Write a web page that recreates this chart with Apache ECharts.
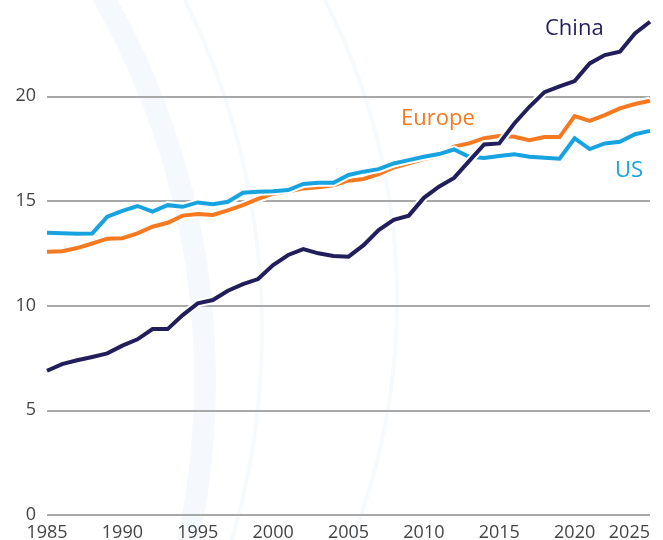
<!DOCTYPE html>
<html>
<head>
<meta charset="utf-8">
<script src="https://cdn.jsdelivr.net/npm/echarts@6/dist/echarts.min.js"></script>
<style>
  html, body { margin: 0; padding: 0; background: #fff; }
  #chart { width: 663px; height: 540px; }
</style>
</head>
<body>
<div id="chart"></div>
<script>
  // 数据 1985-2025
  var years = [];
  for (var y = 1985; y <= 2025; y++) years.push(y);

  var china = [6.89, 7.21, 7.39, 7.55, 7.72, 8.09, 8.39, 8.88, 8.88, 9.55,
    10.11, 10.27, 10.71, 11.03, 11.27, 11.94, 12.42, 12.7, 12.5, 12.37,
    12.34, 12.89, 13.61, 14.1, 14.3, 15.15, 15.68, 16.1, 16.9, 17.7,
    17.75, 18.7, 19.5, 20.2, 20.47, 20.73, 21.57, 21.97, 22.13, 23.0, 23.56];

  var europe = [12.57, 12.6, 12.75, 12.97, 13.2, 13.22, 13.45, 13.77, 13.96, 14.3,
    14.38, 14.33, 14.55, 14.8, 15.1, 15.35, 15.45, 15.6, 15.65, 15.75,
    15.97, 16.05, 16.28, 16.6, 16.8, 17.0, 17.15, 17.6, 17.75, 18.0,
    18.1, 18.07, 17.9, 18.05, 18.05, 19.05, 18.83, 19.1, 19.42, 19.63, 19.79];

  var us = [13.48, 13.46, 13.43, 13.45, 14.25, 14.53, 14.76, 14.49, 14.8, 14.72,
    14.93, 14.85, 14.96, 15.39, 15.44, 15.47, 15.52, 15.81, 15.87, 15.87,
    16.24, 16.4, 16.52, 16.79, 16.95, 17.11, 17.24, 17.46, 17.11, 17.05,
    17.15, 17.23, 17.11, 17.06, 17.02, 17.99, 17.48, 17.75, 17.83, 18.19, 18.35];

  var yTicks = [0, 5, 10, 15, 20];

  function pairs(arr) {
    return years.map(function (yr, i) { return [yr, arr[i]]; });
  }

  var colors = { china: '#221e5c', europe: '#f47920', us: '#16a3e0' };

  function line(name, arr, color, width, silent) {
    return {
      name: name,
      type: 'line',
      data: pairs(arr),
      symbol: 'none',
      silent: !!silent,
      clip: false,
      lineStyle: { color: color, width: width, join: 'miter' },
      emphasis: { disabled: true }
    };
  }

  var chart = echarts.init(document.getElementById('chart'), null, { renderer: 'canvas' });
  chart.setOption({
    animation: false,
    backgroundColor: '#fff',
    grid: { left: 47, right: 13, top: 0, bottom: 25, outerBoundsMode: 'none', containLabel: false },
    xAxis: {
      type: 'value',
      min: 1985,
      max: 2025,
      interval: 5,
      axisLine: { show: false },
      axisTick: { show: false },
      splitLine: { show: false },
      axisLabel: {
        margin: 9,
        color: '#444',
        fontFamily: 'Open Sans',
        fontSize: 18,
        alignMaxLabel: 'right',
        formatter: function (v) { return String(v); }
      }
    },
    yAxis: {
      type: 'value',
      min: 0,
      max: 24.6,
      interval: 5,
      axisLine: { show: false },
      axisTick: { show: false },
      axisLabel: {
        margin: 11,
        color: '#444',
        fontFamily: 'Open Sans',
        fontSize: 18,
        showMaxLabel: false,
        formatter: function (v) { return yTicks.indexOf(v) >= 0 ? String(v) : ''; }
      },
      splitLine: { showMaxLine: false, lineStyle: { color: '#a8a8a8', width: 2 } }
    },
    graphic: [
      // 背景弧线
      { type: 'arc', z: -10, silent: true,
        shape: { cx: -567, cy: 380, r: 772, startAngle: -0.62, endAngle: 0.32, clockwise: true },
        style: { stroke: '#f5f9fd', lineWidth: 22, fill: null } },
      { type: 'arc', z: -10, silent: true,
        shape: { cx: -484, cy: 330, r: 746, startAngle: -0.55, endAngle: 0.4, clockwise: true },
        style: { stroke: '#f6fafd', lineWidth: 4, fill: null } },
      { type: 'arc', z: -10, silent: true,
        shape: { cx: -264, cy: 300, r: 661, startAngle: -0.6, endAngle: 0.5, clockwise: true },
        style: { stroke: '#f6fafd', lineWidth: 4, fill: null } },
      { type: 'text', left: 545, top: 18, z: 10,
        style: { text: 'China', fill: colors.china, font: '22px "Open Sans"' } },
      { type: 'text', left: 401, top: 108, z: 10,
        style: { text: 'Europe', fill: colors.europe, font: '22px "Open Sans"' } },
      { type: 'text', left: 615, top: 160, z: 10,
        style: { text: 'US', fill: colors.us, font: '22px "Open Sans"' } }
    ],
    series: [
      line('eu-halo', europe, '#fff', 8, true),
      line('Europe', europe, colors.europe, 4),
      line('us-halo', us, '#fff', 8, true),
      line('US', us, colors.us, 4),
      line('cn-halo', china, '#fff', 8, true),
      line('China', china, colors.china, 4)
    ]
  });
</script>
</body>
</html>
